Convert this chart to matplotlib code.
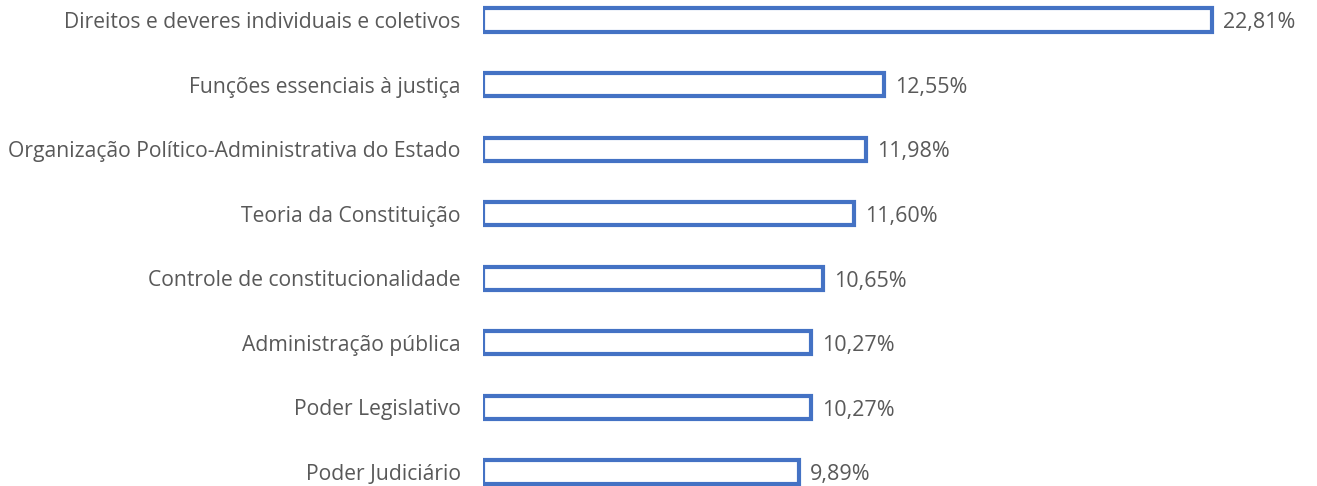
import matplotlib
matplotlib.use("Agg")
import matplotlib.pyplot as plt

categories = [
    "Direitos e deveres individuais e coletivos",
    "Funções essenciais à justiça",
    "Organização Político-Administrativa do Estado",
    "Teoria da Constituição",
    "Controle de constitucionalidade",
    "Administração pública",
    "Poder Legislativo",
    "Poder Judiciário",
]
values = [22.81, 12.55, 11.98, 11.60, 10.65, 10.27, 10.27, 9.89]
value_labels = ["22,81%", "12,55%", "11,98%", "11,60%", "10,65%", "10,27%", "10,27%", "9,89%"]

W, H, DPI = 1317, 486, 100
fig = plt.figure(figsize=(W / DPI, H / DPI), dpi=DPI)
left_px = 483
px_per_unit = 31.96
right_px = 1317
ax = fig.add_axes([left_px / W, 0, (right_px - left_px) / W, 1])
ax.set_xlim(0, (right_px - left_px) / px_per_unit)

spacing = 64.57
c0 = 20
ax.set_ylim((H - c0) / spacing, -c0 / spacing)

ypos = list(range(len(categories)))
color = "#4472C4"
ax.barh(ypos, values, height=0.36, facecolor="white", edgecolor=color, linewidth=3)

for y, v, lab in zip(ypos, values, value_labels):
    ax.annotate(lab, xy=(v, y), xytext=(8, -2), textcoords="offset points",
                ha="left", va="center", fontsize=15.5, color="#595959", family="Open Sans")

ax.set_yticks(ypos)
ax.set_yticklabels(categories, fontsize=15.2, color="#595959", family="Open Sans")
ax.tick_params(axis="y", length=0, pad=16)
ax.set_xticks([])
for s in ax.spines.values():
    s.set_visible(False)

fig.savefig("out.png", dpi=DPI)
